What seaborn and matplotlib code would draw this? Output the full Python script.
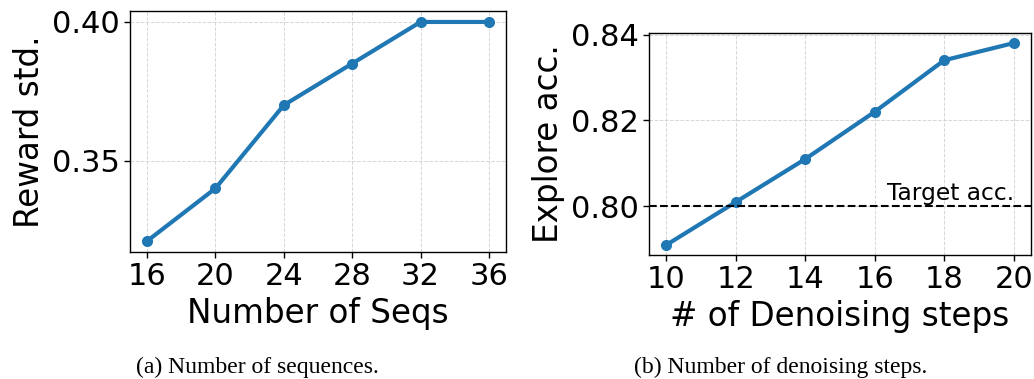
import matplotlib
matplotlib.use("Agg")
import matplotlib.pyplot as plt
import seaborn as sns
import pandas as pd

num_seqs = [16, 20, 24, 28, 32, 36]
reward_std = [0.321, 0.340, 0.370, 0.385, 0.400, 0.400]

denoise_steps = [10, 12, 14, 16, 18, 20]
explore_acc = [0.791, 0.801, 0.811, 0.822, 0.834, 0.838]
target_acc = 0.80

yticks_a = [0.35, 0.40]
yticks_b = [0.80, 0.82, 0.84]

sns.set_theme(style="ticks")
plt.rcParams['font.family'] = ['DejaVu Sans']
plt.rcParams['text.color'] = 'black'
plt.rcParams['axes.labelcolor'] = 'black'
plt.rcParams['xtick.color'] = 'black'
plt.rcParams['ytick.color'] = 'black'

fig = plt.figure(figsize=(10.34, 3.79), dpi=100)
W, H = 1034, 379
ax1 = fig.add_axes([130 / W, 1 - 252 / H, 376 / W, 241 / H])
ax2 = fig.add_axes([649 / W, 1 - 255 / H, 382 / W, 222 / H])

color = "#1f77b4"
dfa = pd.DataFrame({"x": num_seqs, "y": reward_std})
dfb = pd.DataFrame({"x": denoise_steps, "y": explore_acc})

for ax, df in ((ax1, dfa), (ax2, dfb)):
    sns.lineplot(data=df, x="x", y="y", ax=ax, color=color, linewidth=3,
                 marker="o", markersize=8, markeredgewidth=0)
    ax.grid(True, linestyle="--", color="#cccccc", linewidth=0.7, alpha=0.8)
    for s in ax.spines.values():
        s.set_color("black")
        s.set_linewidth(1.0)
    ax.tick_params(axis="both", labelsize=22, length=4, width=1,
                   colors="black", labelcolor="black")

ax1.set_xticks(num_seqs)
ax1.set_yticks(yticks_a)
ax1.set_yticklabels([f"{v:.2f}" for v in yticks_a])
ax1.set_xlabel("Number of Seqs", fontsize=23.5, color="black")
ax1.set_ylabel("Reward std.", fontsize=23.5, color="black")

ax2.set_xticks(denoise_steps)
ax2.set_yticks(yticks_b)
ax2.set_yticklabels([f"{v:.2f}" for v in yticks_b])
ax2.set_xlabel("# of Denoising steps", fontsize=23.5, color="black")
ax2.set_ylabel("Explore acc.", fontsize=23.5, color="black")
ax2.axhline(target_acc, color="black", linestyle="--", linewidth=1.5)
ax2.text(0.955, target_acc + 0.0004, "Target acc.", transform=ax2.get_yaxis_transform(),
         ha="right", va="bottom", fontsize=16.8, color="black")

fig.text(257 / W, 1 - 367 / H, "(a) Number of sequences.", ha="center", va="center",
         fontsize=17, family="Liberation Serif", color="black")
fig.text(781 / W, 1 - 367 / H, "(b) Number of denoising steps.", ha="center", va="center",
         fontsize=17, family="Liberation Serif", color="black")

fig.savefig("out.png", dpi=100)
